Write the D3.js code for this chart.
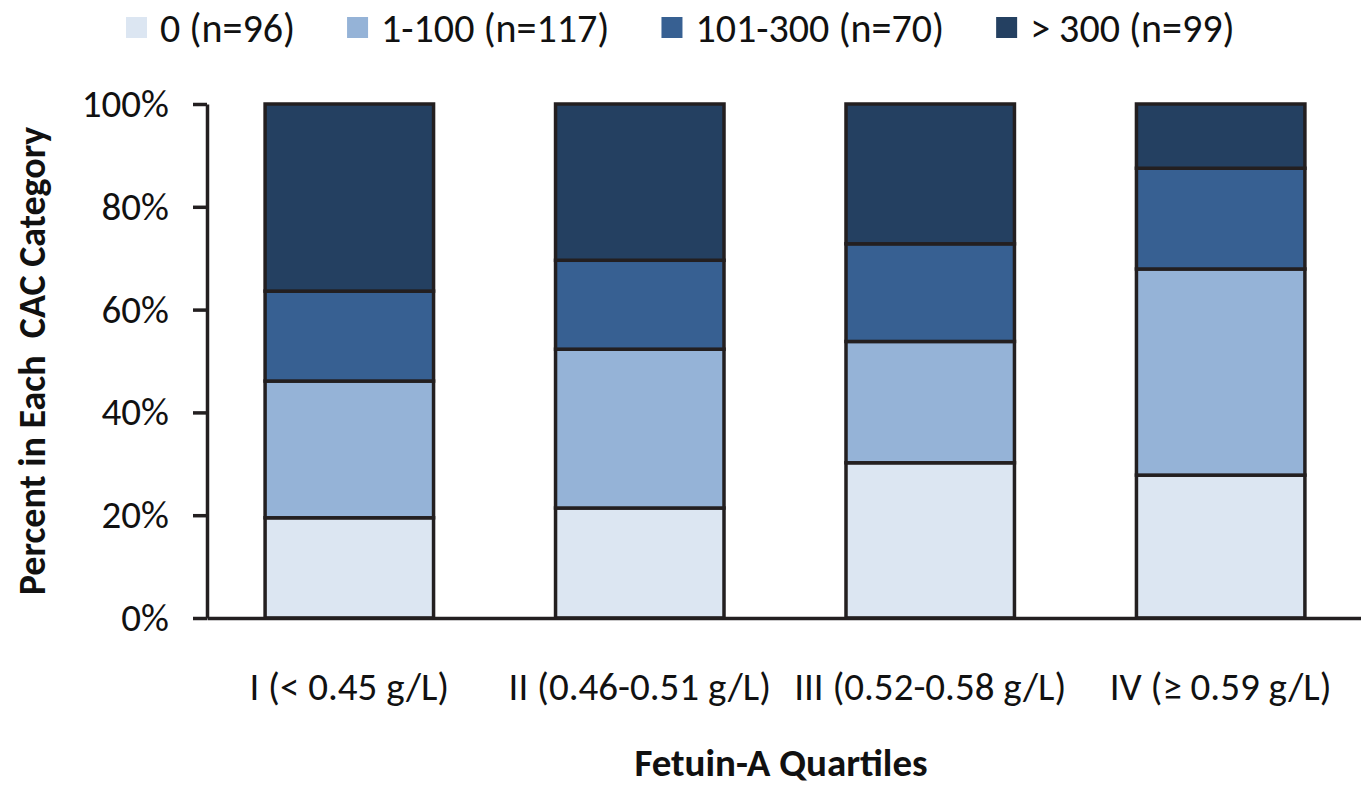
<!DOCTYPE html>
<html>
<head>
<meta charset="utf-8">
<script src="https://cdn.jsdelivr.net/npm/d3@7"></script>
<style>
  body { margin: 0; background: #fff; }
  svg { display: block; }
</style>
</head>
<body>
<svg id="chart" width="1361" height="785"></svg>
<script>
const quartiles = ["I (< 0.45 g/L)", "II (0.46-0.51 g/L)", "III (0.52-0.58 g/L)", "IV (\u2265 0.59 g/L)"];
const cacCategories = ["0 (n=96)", "1-100 (n=117)", "101-300 (n=70)", "> 300 (n=99)"];
const cac0 = [19.5, 21.4, 30.2, 27.8];
const cac1to100 = [26.6, 30.9, 23.6, 40.1];
const cac101to300 = [17.5, 17.3, 19.0, 19.6];
const cacOver300 = [36.4, 30.4, 27.2, 12.5];
const yTicks = [0, 20, 40, 60, 80, 100];
const colors = ["#dce6f2", "#95b3d7", "#376092", "#244061"];

const FONT = "Carlito, Lato, sans-serif";

const svg = d3.select("#chart");
const margin = { top: 104, right: 2, bottom: 167, left: 207 };
const width = 1361, height = 785;
const innerWidth = width - margin.left - margin.right;
const innerHeight = height - margin.top - margin.bottom;

const g = svg.append("g").attr("transform", `translate(${margin.left},${margin.top})`);

const series = [cac0, cac1to100, cac101to300, cacOver300];
const rows = quartiles.map((q, i) => {
    const r = { quartile: q };
    cacCategories.forEach((c, j) => r[c] = series[j][i]);
    return r;
});
const stacked = d3.stack().keys(cacCategories)(rows);

const x = d3.scaleBand()
    .domain(quartiles)
    .range([0, 289 * 4])
    .paddingInner(0.42)
    .paddingOuter(0.2);

const y = d3.scaleLinear().domain([0, 100]).range([innerHeight, 0]);

// bars
stacked.forEach((layer, j) => {
    g.selectAll(null)
        .data(layer)
        .enter().append("rect")
        .attr("x", d => x(d.data.quartile))
        .attr("width", x.bandwidth())
        .attr("y", d => y(d[1]))
        .attr("height", d => y(d[0]) - y(d[1]))
        .attr("fill", colors[j])
        .attr("stroke", "#231f20")
        .attr("stroke-width", 3.5);
});

// y axis
const yAxis = g.append("g")
    .call(d3.axisLeft(y).tickValues(yTicks).tickFormat(d => d + "%").tickSize(14).tickSizeOuter(0).tickPadding(24))
    .attr("font-family", FONT)
    .attr("font-size", 39);
yAxis.select(".domain").attr("stroke", "#231f20").attr("stroke-width", 3.5);
yAxis.selectAll(".tick line").attr("stroke", "#231f20").attr("stroke-width", 3.5);
yAxis.selectAll(".tick text").attr("fill", "#111");

// x axis
const xAxis = g.append("g")
    .attr("transform", `translate(0,${innerHeight})`)
    .call(d3.axisBottom(x).tickSize(0).tickSizeOuter(0).tickPadding(54))
    .attr("font-family", FONT)
    .attr("font-size", 39);
xAxis.select(".domain").attr("stroke", "#231f20").attr("stroke-width", 3.5);
xAxis.selectAll(".tick text").attr("fill", "#111");

// axis titles
svg.append("text")
    .attr("transform", `translate(45,${margin.top + innerHeight / 2}) rotate(-90)`)
    .attr("text-anchor", "middle")
    .attr("font-family", FONT)
    .attr("font-size", 38)
    .attr("font-weight", "bold")
    .attr("fill", "#111")
    .style("white-space", "pre")
    .text("Percent in Each  CAC Category");

svg.append("text")
    .attr("x", 781)
    .attr("y", 776)
    .attr("text-anchor", "middle")
    .attr("font-family", FONT)
    .attr("font-size", 39)
    .attr("font-weight", "bold")
    .attr("fill", "#111")
    .text("Fetuin-A Quartiles");

// legend
const legend = svg.append("g").attr("transform", "translate(126,28)");
let lx = 0;
cacCategories.forEach((c, j) => {
    const item = legend.append("g").attr("transform", `translate(${lx},0)`);
    item.append("rect")
        .attr("x", 0).attr("y", -11)
        .attr("width", 21).attr("height", 21)
        .attr("fill", colors[j]);
    const t = item.append("text")
        .attr("x", 34).attr("y", 0)
        .attr("dy", "0.35em")
        .attr("font-family", FONT)
        .attr("font-size", 40)
        .attr("fill", "#111")
        .text(c);
    lx += 34 + t.node().getComputedTextLength() + 52;
});
</script>
</body>
</html>
